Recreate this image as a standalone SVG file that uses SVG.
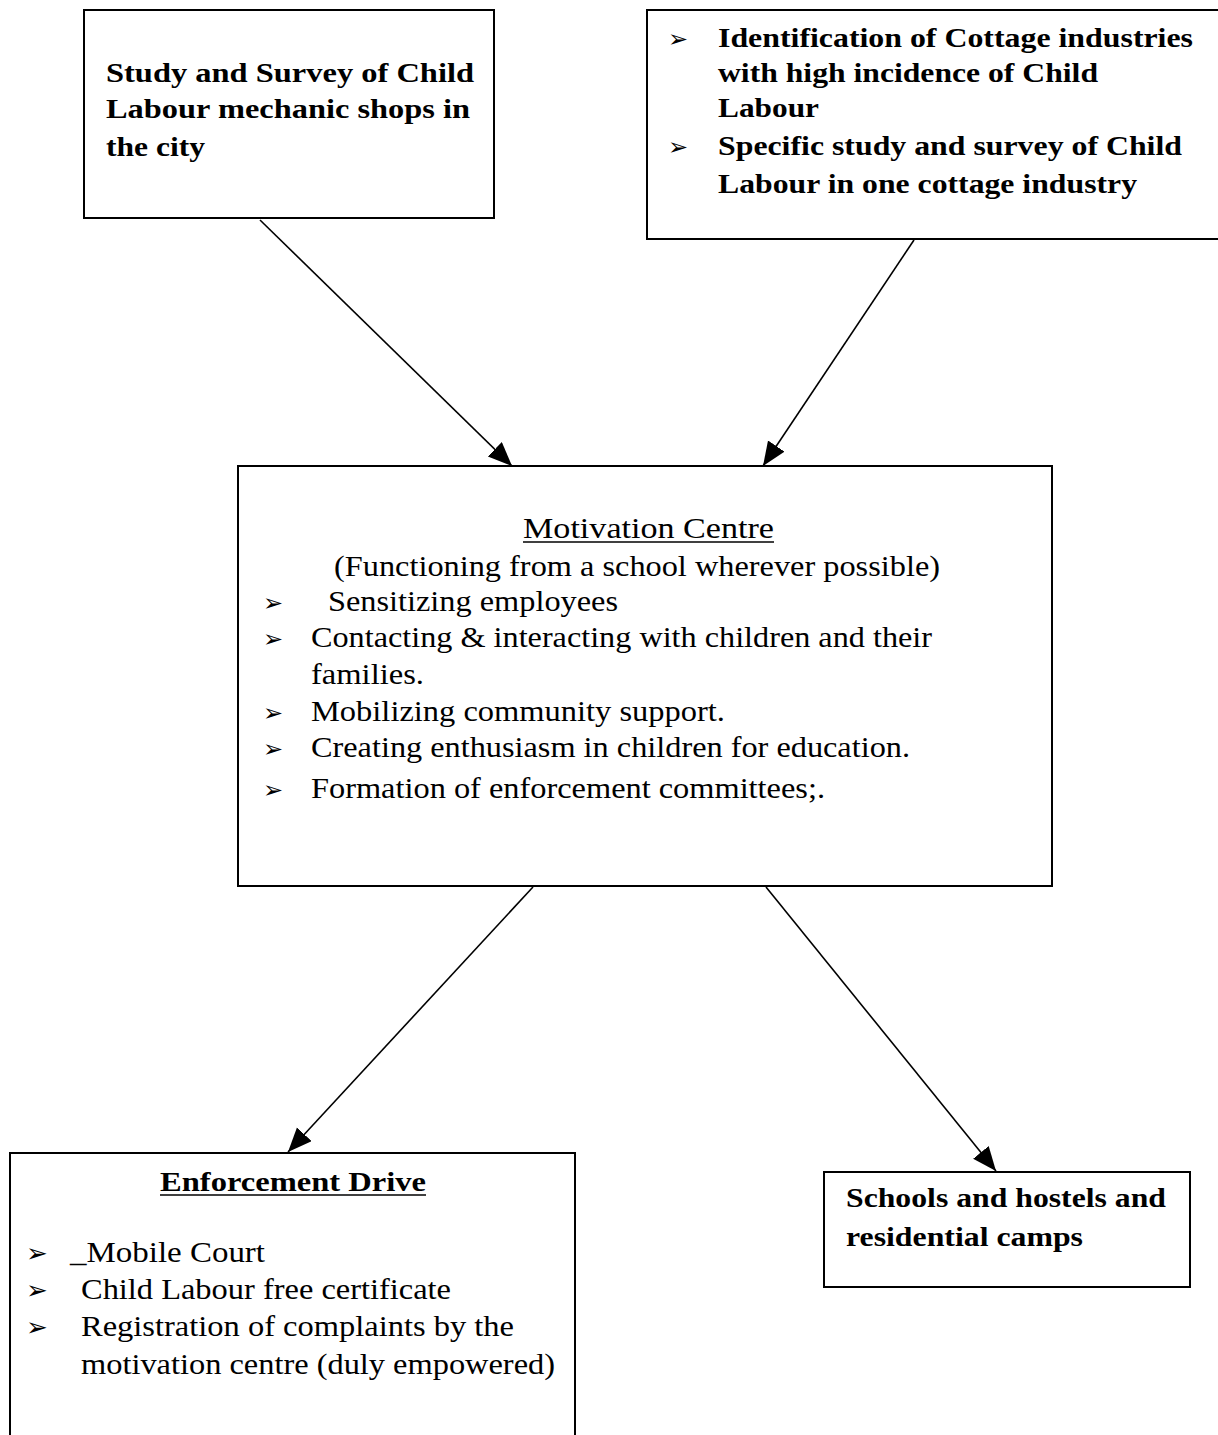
<svg xmlns="http://www.w3.org/2000/svg" width="1218" height="1435" viewBox="0 0 1218 1435">
<style>
.box{fill:#fff;stroke:#000;stroke-width:2}
.b{font-family:"Liberation Serif","Times New Roman",Tinos,serif;font-weight:bold;font-size:28px;fill:#000}
.r{font-family:"Liberation Serif","Times New Roman",Tinos,serif;font-size:30px;fill:#000}
.bul{font-family:"DejaVu Sans",sans-serif;font-size:24px;fill:#000}
.bul2{font-family:"DejaVu Sans",sans-serif;font-size:26px;font-weight:bold;fill:#000}
.ul{stroke:#000;stroke-width:1.5}
.conn{stroke:#000;stroke-width:1.6;fill:none}
</style>
<defs>
<marker id="ah" markerUnits="userSpaceOnUse" markerWidth="26" markerHeight="22" refX="24" refY="10" orient="auto">
<path d="M0,0 L24,10 L0,20 Z" fill="#000"/>
</marker>
</defs>
<rect width="1218" height="1435" fill="#fff"/>
<g id="connectors">
<line class="conn" x1="260" y1="220" x2="512" y2="466" marker-end="url(#ah)"/>
<line class="conn" x1="914" y1="240" x2="763" y2="466" marker-end="url(#ah)"/>
<line class="conn" x1="533" y1="887" x2="288" y2="1152" marker-end="url(#ah)"/>
<line class="conn" x1="766" y1="887" x2="996" y2="1171" marker-end="url(#ah)"/>
</g>
<g id="node-study">
<rect class="box" x="84" y="10" width="410" height="208"/>
<text class="b" x="106" y="82" textLength="368" lengthAdjust="spacingAndGlyphs">Study and Survey of Child</text>
<text class="b" x="106" y="118" textLength="364" lengthAdjust="spacingAndGlyphs">Labour mechanic shops in</text>
<text class="b" x="106" y="156" textLength="99" lengthAdjust="spacingAndGlyphs">the city</text>
</g>
<g id="node-cottage">
<rect class="box" x="647" y="10" width="575" height="229"/>
<text class="bul" x="668" y="47">➢</text>
<text class="b" x="718" y="47" textLength="475" lengthAdjust="spacingAndGlyphs">Identification of Cottage industries</text>
<text class="b" x="718" y="82" textLength="380" lengthAdjust="spacingAndGlyphs">with high incidence of Child</text>
<text class="b" x="718" y="117" textLength="101" lengthAdjust="spacingAndGlyphs">Labour</text>
<text class="bul" x="668" y="155">➢</text>
<text class="b" x="718" y="155" textLength="464" lengthAdjust="spacingAndGlyphs">Specific study and survey of Child</text>
<text class="b" x="718" y="193" textLength="419" lengthAdjust="spacingAndGlyphs">Labour in one cottage industry</text>
</g>
<g id="node-motivation">
<rect class="box" x="238" y="466" width="814" height="420"/>
<text class="r" x="523" y="538" textLength="251" lengthAdjust="spacingAndGlyphs">Motivation Centre</text>
<line class="ul" x1="523" y1="542" x2="774" y2="542"/>
<text class="r" x="334" y="576" textLength="606" lengthAdjust="spacingAndGlyphs">(Functioning from a school wherever possible)</text>
<text class="bul" x="263" y="611">➢</text>
<text class="r" x="328" y="611" textLength="290" lengthAdjust="spacingAndGlyphs">Sensitizing employees</text>
<text class="bul" x="263" y="647">➢</text>
<text class="r" x="311" y="647" textLength="621" lengthAdjust="spacingAndGlyphs">Contacting &amp; interacting with children and their</text>
<text class="r" x="311" y="684" textLength="113" lengthAdjust="spacingAndGlyphs">families.</text>
<text class="bul" x="263" y="721">➢</text>
<text class="r" x="311" y="721" textLength="414" lengthAdjust="spacingAndGlyphs">Mobilizing community support.</text>
<text class="bul" x="263" y="757">➢</text>
<text class="r" x="311" y="757" textLength="599" lengthAdjust="spacingAndGlyphs">Creating enthusiasm in children for education.</text>
<text class="bul" x="263" y="798">➢</text>
<text class="r" x="311" y="798" textLength="514" lengthAdjust="spacingAndGlyphs">Formation of enforcement committees;.</text>
</g>
<g id="node-enforcement">
<rect class="box" x="10" y="1153" width="565" height="300"/>
<text class="b" x="160" y="1191" textLength="266" lengthAdjust="spacingAndGlyphs">Enforcement Drive</text>
<line class="ul" x1="160" y1="1195" x2="426" y2="1195"/>
<text class="bul2" x="26" y="1262">➢</text>
<text class="r" x="70" y="1262" textLength="195" lengthAdjust="spacingAndGlyphs">_Mobile Court</text>
<text class="bul2" x="26" y="1299">➢</text>
<text class="r" x="81" y="1299" textLength="370" lengthAdjust="spacingAndGlyphs">Child Labour free certificate</text>
<text class="bul2" x="26" y="1336">➢</text>
<text class="r" x="81" y="1336" textLength="433" lengthAdjust="spacingAndGlyphs">Registration of complaints by the</text>
<text class="r" x="81" y="1374" textLength="474" lengthAdjust="spacingAndGlyphs">motivation centre (duly empowered)</text>
</g>
<g id="node-schools">
<rect class="box" x="824" y="1172" width="366" height="115"/>
<text class="b" x="846" y="1207" textLength="320" lengthAdjust="spacingAndGlyphs">Schools and hostels and</text>
<text class="b" x="846" y="1246" textLength="237" lengthAdjust="spacingAndGlyphs">residential camps</text>
</g>
</svg>
